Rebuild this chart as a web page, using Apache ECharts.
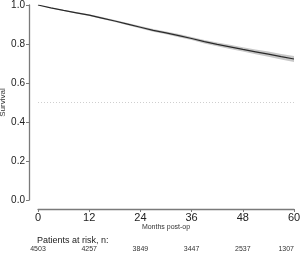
<!DOCTYPE html>
<html>
<head>
<meta charset="utf-8">
<script src="https://cdn.jsdelivr.net/npm/echarts@6/dist/echarts.min.js"></script>
<style>
  html, body { margin: 0; padding: 0; background: #fff; }
  #chart { width: 300px; height: 254px; }
</style>
</head>
<body>
<div id="chart"></div>
<script>
// months post-op and KM survival estimate
const months   = [0, 3, 6, 9, 12, 15, 18, 21, 24, 27, 30, 33, 36, 39, 42, 45, 48, 51, 54, 57, 60];
const survival = [1.0, 0.985, 0.972, 0.960, 0.948, 0.933, 0.918, 0.902, 0.886, 0.870, 0.857, 0.843, 0.828, 0.812, 0.798, 0.785, 0.772, 0.760, 0.748, 0.735, 0.723];
const lower    = [1.0, 0.983, 0.969, 0.956, 0.944, 0.928, 0.913, 0.896, 0.880, 0.863, 0.850, 0.835, 0.820, 0.803, 0.788, 0.774, 0.761, 0.748, 0.735, 0.721, 0.708];
const upper    = [1.0, 0.987, 0.975, 0.964, 0.952, 0.938, 0.923, 0.908, 0.892, 0.877, 0.864, 0.851, 0.836, 0.821, 0.808, 0.796, 0.783, 0.772, 0.761, 0.749, 0.738];

// numbers at risk under each x tick
const riskMonths = [0, 12, 24, 36, 48, 60];
const atRisk     = [4503, 4257, 3849, 3447, 2537, 1307];

const font = 'Liberation Sans, Arial, sans-serif';
const axisGray = '#7a7a7a';

const chart = echarts.init(document.getElementById('chart'));

const riskLabel = {};
riskMonths.forEach((m, i) => { riskLabel[m] = atRisk[i]; });

// confidence band as one polygon: upper edge forward, lower edge back
function renderBand(params, api) {
    if (params.dataIndex !== 0) return;
    const pts = [];
    months.forEach((m, i) => pts.push(api.coord([m, upper[i]])));
    for (let i = months.length - 1; i >= 0; i--) pts.push(api.coord([months[i], lower[i]]));
    return {
        type: 'polygon',
        shape: { points: pts },
        style: { fill: '#c8c8c8', stroke: null }
    };
}

chart.setOption({
    animation: false,
    title: {
        text: 'Patients at risk, n:',
        left: 32,
        top: 231,
        textStyle: { fontFamily: font, fontSize: 9, fontWeight: 'normal', color: '#222' }
    },
    grid: { left: 38, right: 6, top: 5, bottom: 54, outerBoundsMode: 'none', containLabel: false },
    xAxis: [{
        type: 'value',
        min: 0,
        max: 60,
        interval: 12,
        offset: 9,
        name: 'Months post-op',
        nameLocation: 'middle',
        nameGap: 15,
        nameMoveOverlap: false,
        nameTextStyle: { fontFamily: font, fontSize: 7, color: '#333' },
        axisLine: { onZero: false, lineStyle: { color: axisGray, width: 1.3 } },
        axisTick: { length: 3, lineStyle: { color: axisGray } },
        axisLabel: { fontFamily: font, fontSize: 11, color: '#222', margin: 3 },
        splitLine: { show: false }
    }, {
        type: 'value',
        min: 0,
        max: 60,
        interval: 12,
        position: 'bottom',
        offset: 40,
        axisLine: { show: false, onZero: false },
        axisTick: { show: false },
        axisLabel: {
            fontFamily: font, fontSize: 7, color: '#333', margin: 6,
            alignMaxLabel: 'right',
            formatter: (v) => riskLabel[v] !== undefined ? String(riskLabel[v]) : ''
        },
        splitLine: { show: false }
    }],
    yAxis: {
        type: 'value',
        min: 0,
        max: 1,
        interval: 0.2,
        offset: 9,
        name: 'Survival',
        nameLocation: 'middle',
        nameGap: 22,
        nameMoveOverlap: false,
        nameTextStyle: { fontFamily: font, fontSize: 8, color: '#333' },
        axisLine: { show: true, onZero: false, lineStyle: { color: axisGray, width: 1.3 } },
        axisTick: { show: true, length: 3, lineStyle: { color: axisGray } },
        axisLabel: { fontFamily: font, fontSize: 10, color: '#222', margin: 4, formatter: (v) => v.toFixed(1) },
        splitLine: { show: false }
    },
    series: [{
        type: 'custom',
        renderItem: renderBand,
        data: months.map((m, i) => [m, upper[i], lower[i]]),
        encode: { x: 0, y: [1, 2] },
        silent: true
    }, {
        type: 'line',
        data: months.map((m, i) => [m, survival[i]]),
        symbol: 'none',
        lineStyle: { color: '#2a2a2a', width: 1.2 },
        markLine: {
            silent: true,
            symbol: 'none',
            label: { show: false },
            lineStyle: { color: '#cfcfcf', type: [1, 2], width: 1 },
            data: [{ yAxis: 0.5 }]
        }
    }]
});
</script>
</body>
</html>
